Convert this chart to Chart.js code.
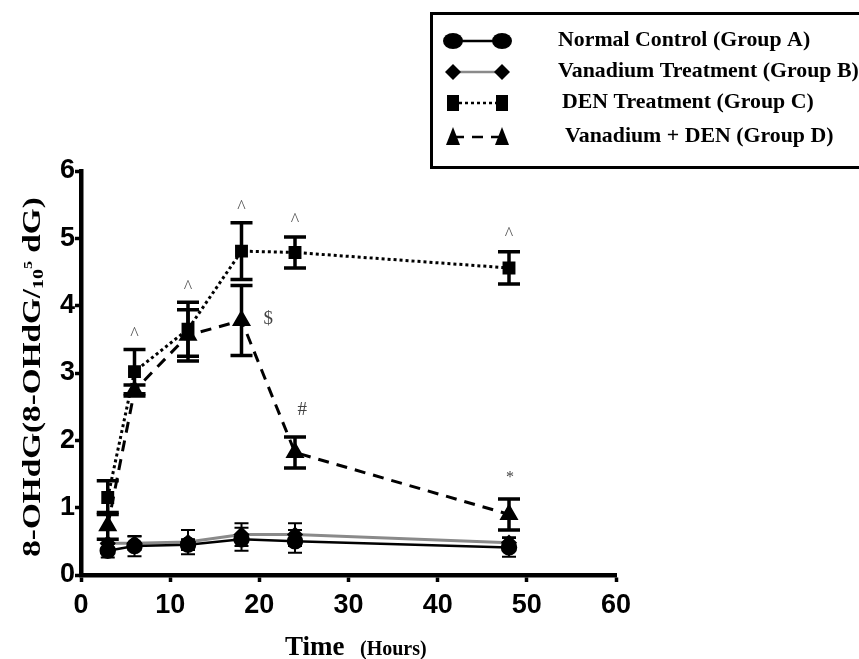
<!DOCTYPE html>
<html>
<head>
<meta charset="utf-8">
<script src="https://cdn.jsdelivr.net/npm/chart.js@4.4.1/dist/chart.umd.min.js"></script>
<style>
html,body{margin:0;padding:0;background:#fff;}
#wrap{position:relative;width:859px;height:659px;}
</style>
</head>
<body>
<div id="wrap"><canvas id="c" width="859" height="659"></canvas></div>
<script>
// ---- data ----
const hours = [3, 6, 12, 18, 24, 48];
const groupA = [0.36, 0.43, 0.45, 0.53, 0.50, 0.41];
const groupAErr = [0.10, 0.15, 0.08, 0.17, 0.17, 0.14];
const groupB = [0.47, 0.47, 0.49, 0.60, 0.60, 0.48];
const groupBErr = [0.06, 0.10, 0.18, 0.17, 0.17, 0.08];
const groupC = [1.15, 3.02, 3.65, 4.81, 4.79, 4.56];
const groupCErr = [0.25, 0.33, 0.40, 0.42, 0.23, 0.24];
const groupD = [0.73, 2.74, 3.56, 3.78, 1.82, 0.90];
const groupDErr = [0.20, 0.08, 0.38, 0.52, 0.23, 0.23];
const xTicks = [0, 10, 20, 30, 40, 50, 60];
const yTicks = [0, 1, 2, 3, 4, 5, 6];
const legendLabels = ["Normal Control (Group A)", "Vanadium Treatment (Group B)", "DEN Treatment (Group C)", "Vanadium + DEN (Group D)"];
const marks = [
  {t: "^", x: 6, y: 3.56},
  {t: "^", x: 12, y: 4.26},
  {t: "^", x: 18, y: 5.45},
  {t: "^", x: 24, y: 5.25},
  {t: "^", x: 48, y: 5.05},
  {t: "$", x: 21, y: 3.8},
  {t: "#", x: 24.8, y: 2.45},
  {t: "*", x: 48.1, y: 1.45}
];

const pts = (vals) => hours.map((h, i) => ({x: h, y: vals[i]}));

const datasets = [
  {label: legendLabels[0], data: pts(groupA), err: groupAErr, borderColor: '#000', backgroundColor: '#000',
   borderWidth: 2.5, pointStyle: 'circle', pointRadius: 7, capW: 14, errW: 2},
  {label: legendLabels[1], data: pts(groupB), err: groupBErr, borderColor: '#8a8a8a', backgroundColor: '#000',
   pointBorderColor: '#000', borderWidth: 3, pointStyle: 'rectRot', pointRadius: 6, capW: 14, errW: 2},
  {label: legendLabels[2], data: pts(groupC), err: groupCErr, borderColor: '#000', backgroundColor: '#000',
   borderWidth: 3, borderDash: [3, 3], pointStyle: 'rect', pointRadius: 7, capW: 22, errW: 3.5},
  {label: legendLabels[3], data: pts(groupD), err: groupDErr, borderColor: '#000', backgroundColor: '#000',
   borderWidth: 3, borderDash: [11, 8], pointStyle: 'triangle', pointRadius: 8, capW: 22, errW: 3.5}
];

const errorBars = {
  id: 'errorBars',
  afterDatasetsDraw(chart) {
    const ctx = chart.ctx, xs = chart.scales.x, ys = chart.scales.y;
    chart.data.datasets.forEach((ds) => {
      ds.data.forEach((p, i) => {
        const e = ds.err[i];
        const px = xs.getPixelForValue(p.x);
        const top = ys.getPixelForValue(p.y + e), bot = ys.getPixelForValue(p.y - e);
        ctx.save();
        ctx.strokeStyle = '#000';
        ctx.lineWidth = ds.errW;
        ctx.setLineDash([]);
        ctx.beginPath();
        ctx.moveTo(px, top); ctx.lineTo(px, bot);
        ctx.moveTo(px - ds.capW / 2, top); ctx.lineTo(px + ds.capW / 2, top);
        ctx.moveTo(px - ds.capW / 2, bot); ctx.lineTo(px + ds.capW / 2, bot);
        ctx.stroke();
        ctx.restore();
      });
    });
  }
};

function stretchText(ctx, text, x, y, sx) {
  ctx.save();
  ctx.translate(x, y);
  ctx.scale(sx, 1);
  ctx.fillText(text, 0, 0);
  ctx.restore();
}

const decorations = {
  id: 'decorations',
  afterDraw(chart) {
    const ctx = chart.ctx, xs = chart.scales.x, ys = chart.scales.y;
    ctx.save();
    // significance marks
    ctx.textAlign = 'center';
    ctx.textBaseline = 'middle';
    marks.forEach(m => {
      ctx.fillStyle = m.t === '^' ? '#555' : '#444';
      ctx.font = m.t === '^' ? '18px "Liberation Serif"' : (m.t === '*' ? '16px "Liberation Serif"' : '19px "Liberation Serif"');
      ctx.fillText(m.t, xs.getPixelForValue(m.x), ys.getPixelForValue(m.y));
    });

    // x title
    ctx.fillStyle = '#000';
    ctx.textBaseline = 'alphabetic';
    ctx.textAlign = 'left';
    const f1 = 'bold 27px "Liberation Serif"', f2 = 'bold 20px "Liberation Serif"';
    ctx.font = f1; ctx.fillText('Time', 285, 655);
    ctx.font = f2; ctx.fillText('(Hours)', 360, 655);

    // y title (rotated, horizontally stretched like the original)
    ctx.save();
    ctx.translate(40, 377);
    ctx.rotate(-Math.PI / 2);
    const st = 1.33;
    ctx.scale(st, 1);
    const parts = [
      {t: '8-OHdG(8-OHdG/', f: 'bold 25px "Liberation Serif"', dy: 0},
      {t: '10', f: 'bold 15px "Liberation Serif"', dy: 3},
      {t: '5', f: 'bold 12px "Liberation Serif"', dy: -8},
      {t: ' dG)', f: 'bold 25px "Liberation Serif"', dy: 0}
    ];
    let total = 0;
    parts.forEach(p => { ctx.font = p.f; p.w = ctx.measureText(p.t).width; total += p.w; });
    let cx = -total / 2;
    parts.forEach(p => { ctx.font = p.f; ctx.fillText(p.t, cx, p.dy); cx += p.w; });
    ctx.restore();

    // legend box
    ctx.lineWidth = 3;
    ctx.strokeStyle = '#000';
    ctx.setLineDash([]);
    ctx.strokeRect(431.5, 13.5, 440, 154);
    const rowY = [41, 72, 103, 137];
    const textX = [558, 558, 562, 565];
    const lx1 = 453, lx2 = 502;
    chart.data.datasets.forEach((ds, i) => {
      const y = rowY[i];
      ctx.save();
      ctx.strokeStyle = ds.borderColor;
      ctx.lineWidth = 2.5;
      ctx.setLineDash(ds.borderDash || []);
      ctx.beginPath(); ctx.moveTo(lx1, y); ctx.lineTo(lx2, y); ctx.stroke();
      ctx.setLineDash([]);
      ctx.fillStyle = '#000';
      [lx1, lx2].forEach(mx => {
        ctx.beginPath();
        if (i === 0) { ctx.ellipse(mx, y, 10, 8, 0, 0, Math.PI * 2); }
        else if (i === 1) { ctx.moveTo(mx, y - 8); ctx.lineTo(mx + 8, y); ctx.lineTo(mx, y + 8); ctx.lineTo(mx - 8, y); ctx.closePath(); }
        else if (i === 2) { ctx.rect(mx - 6, y - 8, 12, 16); }
        else { ctx.moveTo(mx, y - 10); ctx.lineTo(mx + 7, y + 8); ctx.lineTo(mx - 7, y + 8); ctx.closePath(); }
        ctx.fill();
      });
      ctx.restore();
      ctx.fillStyle = '#000';
      ctx.font = 'bold 21px "Liberation Serif"';
      ctx.textBaseline = 'middle';
      ctx.textAlign = 'left';
      stretchText(ctx, ds.label, textX[i], y, 1.04);
    });
    ctx.restore();
  }
};

const tickFont = {family: '"Liberation Sans Narrow", "Liberation Sans", Arial', size: 27, weight: 'bold'};

new Chart(document.getElementById('c'), {
  type: 'line',
  data: {datasets},
  options: {
    responsive: false,
    animation: false,
    devicePixelRatio: 1,
    layout: {padding: {top: 171, right: 243, left: 0, bottom: 0}},
    plugins: {legend: {display: false}, tooltip: {enabled: false}},
    elements: {line: {tension: 0}},
    scales: {
      x: {
        type: 'linear', min: 0, max: 60,
        afterBuildTicks: (s) => { s.ticks = xTicks.map(v => ({value: v})); },
        afterFit: (s) => { s.height = 84; },
        ticks: {color: '#000', font: tickFont, padding: 7, maxRotation: 0, autoSkip: false},
        grid: {display: true, drawOnChartArea: false, drawTicks: true, tickLength: 7, tickWidth: 3.5, tickColor: '#000'},
        border: {display: true, color: '#000', width: 4.5}
      },
      y: {
        min: 0, max: 6,
        afterBuildTicks: (s) => { s.ticks = yTicks.map(v => ({value: v})); },
        afterFit: (s) => { s.width = 81; },
        ticks: {color: '#000', font: tickFont, padding: 0},
        grid: {display: true, drawOnChartArea: false, drawTicks: true, tickLength: 6, tickWidth: 3.5, tickColor: '#000'},
        border: {display: true, color: '#000', width: 4.5}
      }
    }
  },
  plugins: [errorBars, decorations]
});
</script>
</body>
</html>
